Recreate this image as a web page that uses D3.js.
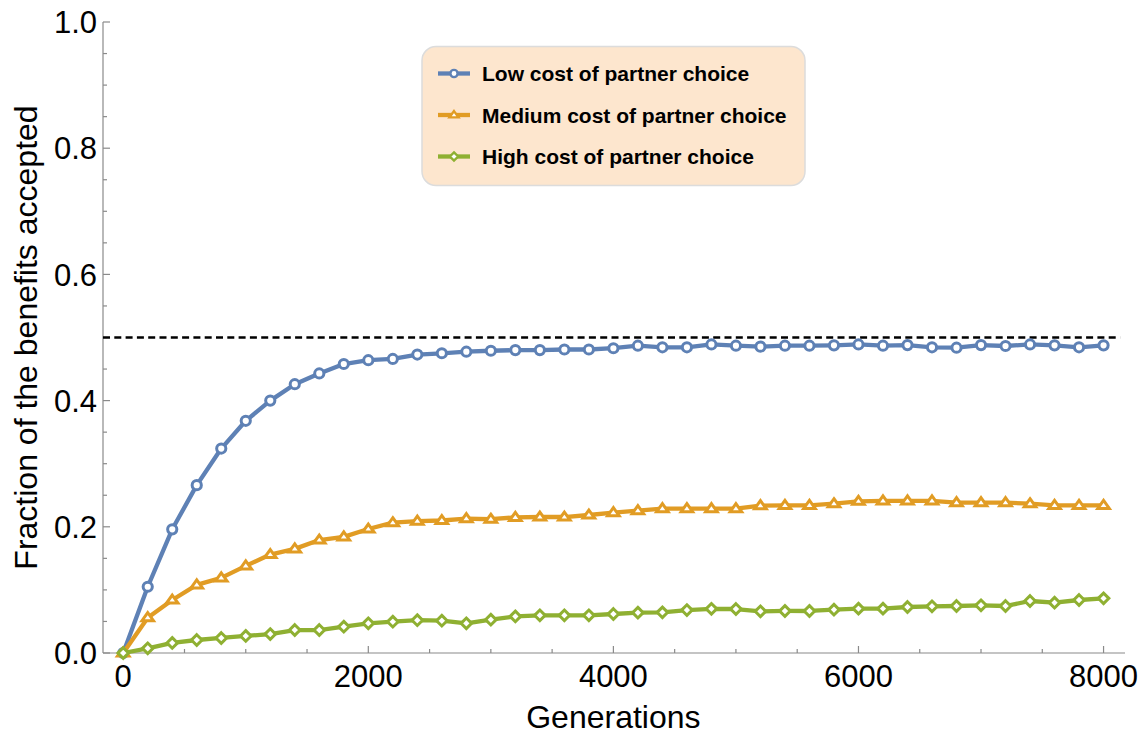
<!DOCTYPE html>
<html>
<head>
<meta charset="utf-8">
<script src="https://cdn.jsdelivr.net/npm/d3@7"></script>
<style>
  html, body { margin: 0; padding: 0; background: #fff; }
  svg { display: block; font-family: "Liberation Sans", Arial, sans-serif; }
</style>
</head>
<body>
<svg id="chart" width="1143" height="735"></svg>
<script>
// ---- data ----
const generations = [0,200,400,600,800,1000,1200,1400,1600,1800,2000,2200,2400,2600,2800,3000,3200,3400,3600,3800,4000,4200,4400,4600,4800,5000,5200,5400,5600,5800,6000,6200,6400,6600,6800,7000,7200,7400,7600,7800,8000];
const lowCost = [0,0.105,0.196,0.266,0.324,0.368,0.400,0.426,0.443,0.458,0.464,0.466,0.473,0.475,0.4775,0.479,0.480,0.480,0.481,0.481,0.483,0.487,0.4845,0.4845,0.489,0.487,0.4855,0.487,0.487,0.4876,0.489,0.487,0.488,0.4845,0.4838,0.488,0.4865,0.489,0.4876,0.4845,0.4876];
const mediumCost = [0,0.056,0.084,0.108,0.119,0.138,0.156,0.165,0.179,0.184,0.1965,0.2065,0.209,0.210,0.213,0.212,0.215,0.2155,0.2155,0.2187,0.2224,0.2256,0.2287,0.2287,0.2287,0.2287,0.2335,0.234,0.234,0.2366,0.2404,0.241,0.241,0.241,0.2382,0.2382,0.2382,0.2366,0.234,0.234,0.234];
const highCost = [0,0.0074,0.016,0.0206,0.0238,0.027,0.030,0.0364,0.0364,0.0417,0.047,0.0496,0.052,0.0512,0.047,0.0528,0.058,0.0597,0.0597,0.0597,0.0618,0.0639,0.0644,0.068,0.070,0.0697,0.066,0.0666,0.0666,0.0687,0.0703,0.0703,0.0729,0.074,0.0745,0.0756,0.0745,0.0824,0.0798,0.084,0.0866];
const seriesNames = ["Low cost of partner choice","Medium cost of partner choice","High cost of partner choice"];
const seriesColors = ["#5E81B5","#E19C24","#8FB032"];
const seriesShapes = ["circle","triangle","diamond"];
const xTicks = [0,2000,4000,6000,8000];
const yTicks = [0,0.2,0.4,0.6,0.8,1.0];
const threshold = 0.5;
const xLabel = "Generations";
const yLabel = "Fraction of the benefits accepted";

const seriesValues = [lowCost, mediumCost, highCost];

// ---- layout ----
const svg = d3.select("#chart");
const x = d3.scaleLinear().domain([-165, 8175]).range([103, 1125]);
const y = d3.scaleLinear().domain([0, 1]).range([653, 22]);
const axisColor = "#8a8a8a";

// x axis
const gx = svg.append("g").attr("transform", `translate(0,${y(0)})`);
gx.append("line").attr("x1", x.range()[0]).attr("x2", x.range()[1])
  .attr("stroke", axisColor).attr("stroke-width", 1.2);
const xMinor = d3.range(0, 8001, 500);
gx.selectAll("line.tk").data(xMinor).join("line").attr("class","tk")
  .attr("x1", d => x(d)).attr("x2", d => x(d))
  .attr("y1", 0).attr("y2", d => xTicks.includes(d) ? -7 : -4)
  .attr("stroke", axisColor).attr("stroke-width", 1.2);
gx.selectAll("text").data(xTicks).join("text")
  .attr("x", d => x(d)).attr("y", 34)
  .attr("text-anchor", "middle").attr("font-size", 31).attr("fill", "#000")
  .text(d => d);

// y axis
const gy = svg.append("g").attr("transform", `translate(${x.range()[0]},0)`);
gy.append("line").attr("y1", y(0)).attr("y2", y(1))
  .attr("stroke", axisColor).attr("stroke-width", 1.2);
const yMinor = d3.range(0, 21).map(i => i * 0.05);
gy.selectAll("line.tk").data(yMinor).join("line").attr("class","tk")
  .attr("y1", d => y(d)).attr("y2", d => y(d))
  .attr("x1", 0).attr("x2", (d, i) => i % 4 === 0 ? 7 : 4)
  .attr("stroke", axisColor).attr("stroke-width", 1.2);
gy.selectAll("text").data(yTicks).join("text")
  .attr("x", -6).attr("y", d => y(d)).attr("dy", "0.36em")
  .attr("text-anchor", "end").attr("font-size", 31).attr("fill", "#000")
  .text(d => d3.format(".1f")(d));

// axis labels
svg.append("text").attr("x", (x(0) + x(8000)) / 2).attr("y", 728)
  .attr("text-anchor", "middle").attr("font-size", 32).text(xLabel);
svg.append("text").attr("transform", `translate(37,${(y(0)+y(1))/2}) rotate(-90)`)
  .attr("text-anchor", "middle").attr("font-size", 32).text(yLabel);

// threshold line
svg.append("line")
  .attr("x1", x.range()[0]).attr("x2", x(8135))
  .attr("y1", y(threshold)).attr("y2", y(threshold))
  .attr("stroke", "#000").attr("stroke-width", 2.6).attr("stroke-dasharray", "7,4.3");

// marker symbol generator
function markerPath(shape, s) {
  if (shape === "circle") return d3.symbol(d3.symbolCircle, Math.PI * s * s)();
  if (shape === "triangle") {
    const h = s * 1.75, w = s * 2.5;
    return `M0,${-h*0.62}L${w/2},${h*0.38}L${-w/2},${h*0.38}Z`;
  }
  return `M0,${-s*1.15}L${s*1.15},0L0,${s*1.15}L${-s*1.15},0Z`;
}

const line = d3.line().x(d => x(d[0])).y(d => y(d[1]));

seriesValues.forEach((vals, si) => {
  const pts = generations.map((g, i) => [g, vals[i]]);
  const g = svg.append("g");
  g.append("path").attr("d", line(pts)).attr("fill", "none")
    .attr("stroke", seriesColors[si]).attr("stroke-width", 4.3)
    .attr("stroke-linejoin", "round");
  g.selectAll("path.m").data(pts).join("path").attr("class", "m")
    .attr("transform", d => `translate(${x(d[0])},${y(d[1])})`)
    .attr("d", markerPath(seriesShapes[si], 4.6))
    .attr("fill", "#fff").attr("stroke", seriesColors[si]).attr("stroke-width", 3);
});

// legend
const leg = svg.append("g");
leg.append("rect").attr("x", 422).attr("y", 46.5).attr("width", 383).attr("height", 139)
  .attr("rx", 14).attr("ry", 14)
  .attr("fill", "#FDE6CE").attr("stroke", "#dcdcdc").attr("stroke-width", 1.5);
const rowY = [73.5, 115, 156.5];
seriesNames.forEach((name, i) => {
  const row = leg.append("g").attr("transform", `translate(0,${rowY[i]})`);
  row.append("line").attr("x1", 438).attr("x2", 470)
    .attr("stroke", seriesColors[i]).attr("stroke-width", 4.3);
  row.append("path").attr("transform", "translate(454,0)")
    .attr("d", markerPath(seriesShapes[i], 3.6))
    .attr("fill", "#fff").attr("stroke", seriesColors[i]).attr("stroke-width", 2.4);
  row.append("text").attr("x", 482).attr("dy", "0.36em")
    .attr("font-size", 21).attr("font-weight", "bold").attr("fill", "#000")
    .text(name);
});
</script>
</body>
</html>
